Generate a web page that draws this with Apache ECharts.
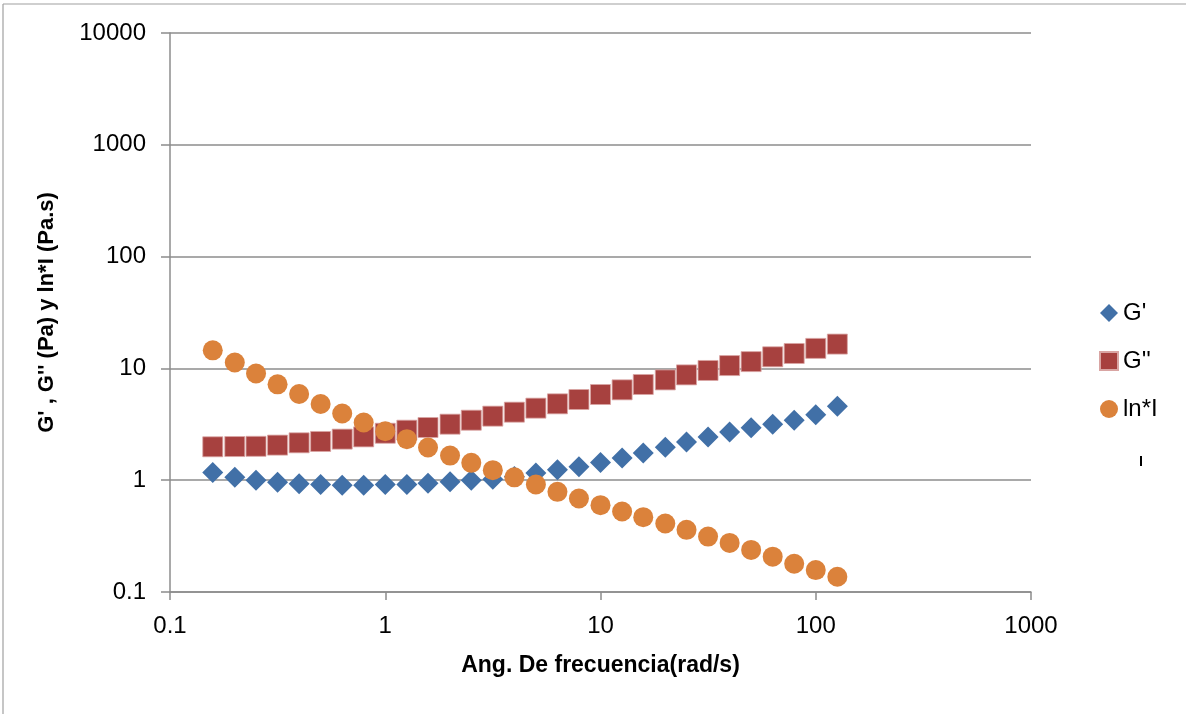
<!DOCTYPE html>
<html>
<head>
<meta charset="utf-8">
<script src="https://cdn.jsdelivr.net/npm/echarts@6/dist/echarts.min.js"></script>
<style>html,body{margin:0;padding:0;background:#fff;}#c{width:1186px;height:714px;}</style>
</head>
<body>
<div id="c"></div>
<script>
const frecuencia = [0.158, 0.2, 0.251, 0.316, 0.398, 0.501, 0.631, 0.794, 1.0, 1.26, 1.58, 2.0, 2.51, 3.16, 3.98, 5.01, 6.31, 7.94, 10, 12.6, 15.8, 20.0, 25.1, 31.6, 39.8, 50.1, 63.1, 79.4, 100, 126];
const gPrima = [1.17, 1.06, 1.0, 0.96, 0.93, 0.915, 0.90, 0.90, 0.915, 0.915, 0.94, 0.97, 1.0, 1.02, 1.08, 1.16, 1.24, 1.32, 1.44, 1.58, 1.75, 1.97, 2.2, 2.44, 2.70, 2.94, 3.17, 3.44, 3.84, 4.59];
const gSegunda = [1.99, 2.0, 2.01, 2.06, 2.16, 2.22, 2.33, 2.44, 2.63, 2.80, 2.96, 3.17, 3.44, 3.74, 4.06, 4.41, 4.82, 5.27, 5.84, 6.43, 7.18, 7.89, 8.75, 9.58, 10.6, 11.5, 12.7, 13.6, 15.1, 16.5];
const viscosidad = [14.5, 11.3, 9.0, 7.2, 5.9, 4.8, 3.95, 3.28, 2.74, 2.33, 1.96, 1.66, 1.43, 1.23, 1.06, 0.915, 0.787, 0.686, 0.598, 0.525, 0.467, 0.410, 0.360, 0.313, 0.275, 0.238, 0.207, 0.179, 0.157, 0.137];
const seriesNames = ["G'", "G''", "ln*I"];
const xTitle = "Ang. De frecuencia(rad/s)";
const yTitle = "G' , G'' (Pa) y ln*I (Pa.s)";

const pair = (ys) => frecuencia.map((x, i) => [x, ys[i]]);
const font = "'Liberation Sans', Arial, sans-serif";
const axisGray = '#8c8c8c';

const chart = echarts.init(document.getElementById('c'), null, {renderer: 'canvas'});
chart.setOption({
  animation: false,
  backgroundColor: '#fff',
  grid: {left: 170, right: 155, top: 33, bottom: 122, containLabel: false},
  xAxis: {
    type: 'log', logBase: 10, min: 0.1, max: 1000,
    name: xTitle, nameLocation: 'middle', nameGap: 62,
    nameTextStyle: {fontFamily: font, fontSize: 23, fontWeight: 'bold', color: '#000'},
    axisLine: {show: true, onZero: false, lineStyle: {color: axisGray, width: 1.5}},
    axisTick: {show: true, length: 8, lineStyle: {color: axisGray, width: 1.5}},
    axisLabel: {fontFamily: font, fontSize: 24, color: '#000', margin: 22,
      formatter: v => String(v)},
    splitLine: {show: false},
    minorTick: {show: false}
  },
  yAxis: {
    type: 'log', logBase: 10, min: 0.1, max: 10000,
    name: yTitle, nameLocation: 'middle', nameGap: 112, nameRotate: 90,
    nameTextStyle: {fontFamily: font, fontSize: 22, fontWeight: 'bold', color: '#000'},
    axisLine: {show: true, onZero: false, lineStyle: {color: axisGray, width: 1.5}},
    axisTick: {show: true, length: 9, lineStyle: {color: axisGray, width: 1.5}},
    axisLabel: {fontFamily: font, fontSize: 24, color: '#000', margin: 24,
      formatter: v => String(v)},
    splitLine: {show: true, lineStyle: {color: axisGray, width: 1.5}}
  },
  legend: {
    orient: 'vertical', left: 1099, top: 301, padding: 0,
    itemWidth: 18, itemHeight: 18, itemGap: 24,
    textStyle: {fontFamily: font, fontSize: 24, color: '#000', lineHeight: 24},
    data: [
      {name: seriesNames[0], icon: 'diamond'},
      {name: seriesNames[1], icon: 'rect'},
      {name: seriesNames[2], icon: 'circle'}
    ]
  },
  graphic: [
    {type: 'line', shape: {x1: 3, y1: 4, x2: 1186, y2: 4}, style: {stroke: '#a0a0a0', lineWidth: 1.2}},
    {type: 'line', shape: {x1: 3, y1: 4, x2: 3, y2: 714}, style: {stroke: '#a0a0a0', lineWidth: 1.2}},
    {type: 'rect', shape: {x: 1140, y: 456, width: 2, height: 10}, style: {fill: '#000'}}
  ],
  series: [
    {name: seriesNames[0], type: 'scatter', symbol: 'diamond', symbolSize: 21,
      itemStyle: {color: '#4170A7', opacity: 1}, data: pair(gPrima)},
    {name: seriesNames[1], type: 'scatter', symbol: 'rect', symbolSize: 20,
      itemStyle: {color: '#A7413F', opacity: 1, borderColor: '#d9a5a3', borderWidth: 0.8}, data: pair(gSegunda)},
    {name: seriesNames[2], type: 'scatter', symbol: 'circle', symbolSize: 20,
      itemStyle: {color: '#DB823B', opacity: 1}, data: pair(viscosidad)}
  ]
});
</script>
</body>
</html>
